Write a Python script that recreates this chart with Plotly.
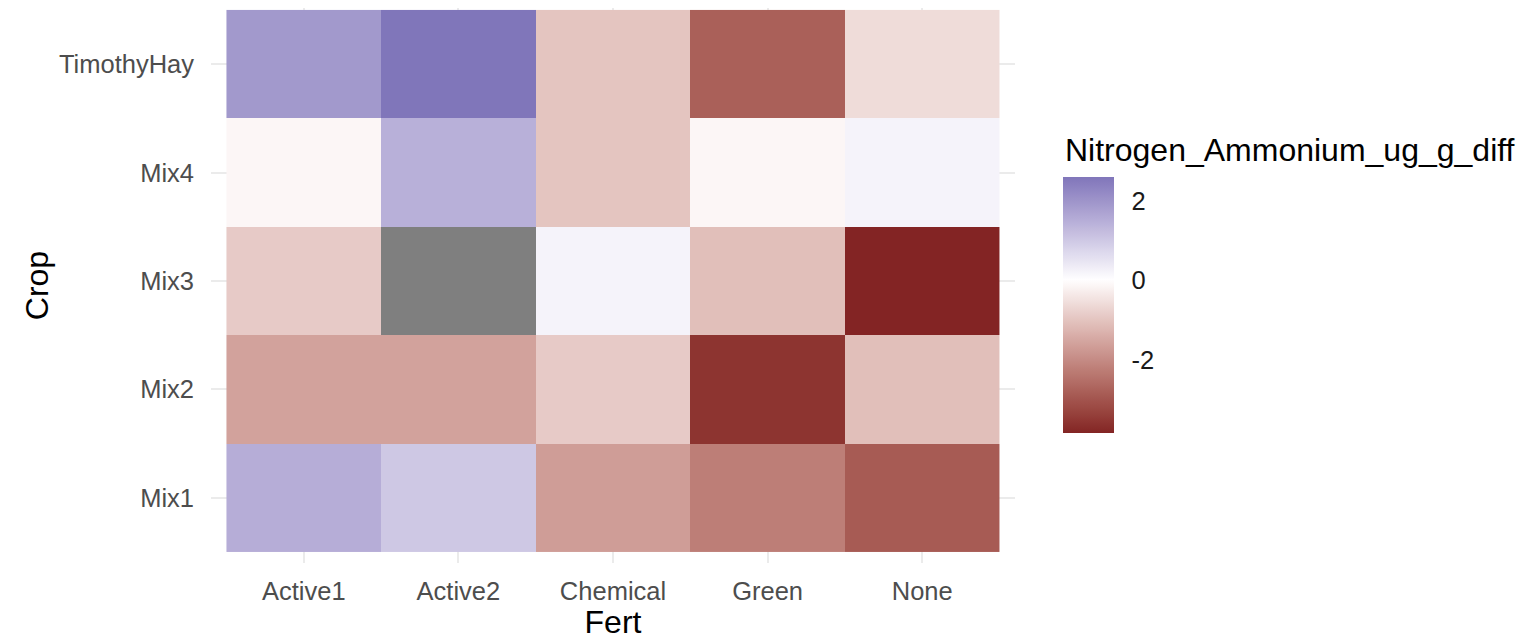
import numpy as np
import plotly.graph_objects as go

# ---------------- data ----------------
fert = ["Active1", "Active2", "Chemical", "Green", "None"]
crop = ["Mix1", "Mix2", "Mix3", "Mix4", "TimothyHay"]

mix1 = [1.5, 1.0, -1.7, -2.25, -2.9]
mix2 = [-1.6, -1.6, -0.9, -3.6, -1.1]
mix3 = [-0.9, None, 0.2, -1.1, -3.86]
mix4 = [-0.15, 1.45, -1.0, -0.15, 0.2]
timothy = [1.9, 2.59, -1.0, -2.8, -0.6]

legend_title = "Nitrogen_Ammonium_ug_g_diff"
cbar_ticks = [-2, 0, 2]

# ---------------- colour scale (ggplot2 scale_fill_gradient2, Lab interpolation) ----------------
def hex2rgb(h):
    h = h.lstrip("#")
    return np.array([int(h[i:i + 2], 16) / 255 for i in (0, 2, 4)])

def srgb2lin(c):
    return np.where(c <= 0.04045, c / 12.92, ((c + 0.055) / 1.055) ** 2.4)

def lin2srgb(c):
    c = np.clip(c, 0, 1)
    return np.where(c <= 0.0031308, 12.92 * c, 1.055 * c ** (1 / 2.4) - 0.055)

M = np.array([[0.4124, 0.3576, 0.1805], [0.2126, 0.7152, 0.0722], [0.0193, 0.1192, 0.9505]])
Minv = np.linalg.inv(M)
WHITE = np.array([0.95047, 1.0, 1.08883])

def f(t):
    d = 6 / 29
    return np.where(t > d ** 3, np.cbrt(t), t / (3 * d * d) + 4 / 29)

def finv(t):
    d = 6 / 29
    return np.where(t > d, t ** 3, 3 * d * d * (t - 4 / 29))

def rgb2lab(rgb):
    xyz = M @ srgb2lin(rgb) / WHITE
    fx, fy, fz = f(xyz)
    return np.array([116 * fy - 16, 500 * (fx - fy), 200 * (fy - fz)])

def lab2hex(lab):
    L, a, b = lab
    fy = (L + 16) / 116
    fx = fy + a / 500
    fz = fy - b / 200
    xyz = finv(np.array([fx, fy, fz])) * WHITE
    rgb = lin2srgb(Minv @ xyz)
    r, g, b = (np.round(rgb * 255)).astype(int)
    return f"rgb({r},{g},{b})"

low_lab = rgb2lab(hex2rgb("#832424"))
mid_lab = rgb2lab(hex2rgb("#FFFFFF"))
high_lab = rgb2lab(hex2rgb("#3A3A98"))

Z = np.array([mix1, mix2, mix3, mix4, timothy], dtype=float)
zmin = np.nanmin(Z)
zmax = np.nanmax(Z)
half = max(abs(zmin), abs(zmax))

colorscale = []
for frac in np.linspace(0, 1, 61):
    v = zmin + frac * (zmax - zmin)
    t = 0.5 + v / (2 * half)
    if t <= 0.5:
        s = t / 0.5
        lab = low_lab + (mid_lab - low_lab) * s
    else:
        s = (t - 0.5) / 0.5
        lab = mid_lab + (high_lab - mid_lab) * s
    colorscale.append([float(frac), lab2hex(lab)])

na_mask = np.where(np.isnan(Z), 1.0, np.nan)

FONT = "Liberation Sans"
W, H = 1520, 632
L_M, R_M, T_M, B_M = 203, 513, 0, 77

fig = go.Figure()
fig.add_trace(go.Heatmap(
    x=fert, y=crop, z=Z, zmin=zmin, zmax=zmax,
    colorscale=colorscale, hoverongaps=False,
    colorbar=dict(
        xref="container", x=1055 / W, xanchor="left", xpad=0,
        yref="container", y=(H - 193) / H, yanchor="top", ypad=0,
        thicknessmode="pixels", thickness=51,
        lenmode="pixels", len=256,
        outlinewidth=0,
        tickvals=cbar_ticks, ticktext=[str(v) for v in cbar_ticks],
        ticks="outside", ticklen=13, tickcolor="white", tickwidth=1,
        tickfont=dict(family=FONT, size=25.5, color="#1A1A1A"),
    ),
))
fig.add_trace(go.Heatmap(
    x=fert, y=crop, z=na_mask, showscale=False,
    colorscale=[[0, "#7F7F7F"], [1, "#7F7F7F"]], hoverinfo="skip",
))

panel_w = W - L_M - R_M
panel_h = H - T_M - B_M
fig.add_annotation(
    text=legend_title, showarrow=False,
    xref="paper", yref="paper",
    x=(1055 - L_M) / panel_w, y=(panel_h - 142) / panel_h,
    xanchor="left", yanchor="middle",
    font=dict(family=FONT, size=32, color="black"),
)

fig.update_layout(
    width=W, height=H,
    margin=dict(l=L_M, r=R_M, t=T_M, b=B_M, autoexpand=False),
    paper_bgcolor="white", plot_bgcolor="white",
    font=dict(family=FONT),
    xaxis=dict(
        type="category", categoryorder="array", categoryarray=fert,
        range=[-0.6, 4.6], showgrid=True, gridcolor="#EBEBEB", gridwidth=1.5,
        zeroline=False, showline=False, ticks="", ticklabelstandoff=10,
        tickfont=dict(family=FONT, size=25.5, color="#4D4D4D"),
        title=dict(text="Fert", standoff=8, font=dict(family=FONT, size=32, color="black")),
        automargin=False,
    ),
    yaxis=dict(
        type="category", categoryorder="array", categoryarray=crop,
        range=[-0.601, 4.518], showgrid=True, gridcolor="#EBEBEB", gridwidth=1.5,
        zeroline=False, showline=False, ticks="", ticklabelstandoff=16,
        tickfont=dict(family=FONT, size=25.5, color="#4D4D4D"),
        title=dict(text="Crop", standoff=0, font=dict(family=FONT, size=32, color="black")),
        automargin=False,
    ),
)

fig.write_html("out.html")
